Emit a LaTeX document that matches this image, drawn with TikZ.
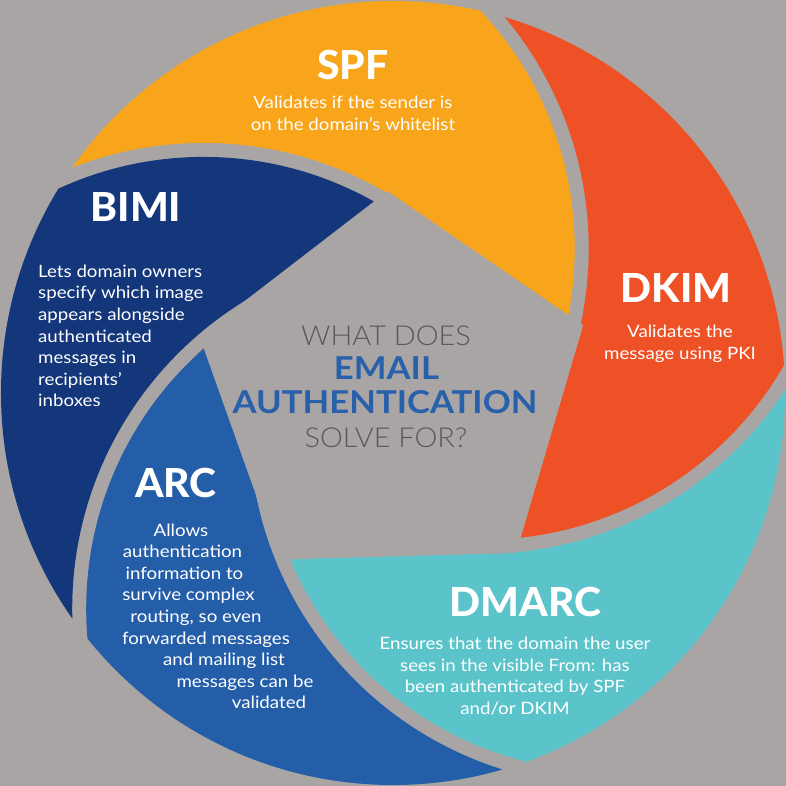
\documentclass[tikz,border=0pt]{standalone}
\usepackage{fontspec}
\setmainfont{Lato}[FakeStretch=1.1]
\newfontfamily\lightfont{Lato Light}[FakeStretch=1.05]
\newfontfamily\heavyfont{Lato Heavy}[FakeStretch=1.02]
\usetikzlibrary{positioning}
\definecolor{Stone}{HTML}{A8A5A4}
\definecolor{Amber}{HTML}{F8A51B}
\definecolor{Ember}{HTML}{EE5126}
\definecolor{Lagoon}{HTML}{5BC4CA}
\definecolor{Cobalt}{HTML}{255EA8}
\definecolor{Navy}{HTML}{14367A}
\definecolor{Slate}{HTML}{58595B}
\definecolor{Azure}{HTML}{2860AC}
\tikzset{
  title/.style={text=white,font=\fontsize{40}{40}\selectfont\heavyfont,inner sep=0pt,anchor=base},
  body/.style={text=white,font=\fontsize{17}{21.6}\selectfont,align=center,inner sep=0pt},
  hub/.style={text=Slate,font=\fontsize{27.5}{30}\selectfont\lightfont,inner sep=0pt,anchor=base},
  hubbold/.style={text=Azure,font=\fontsize{31.5}{34}\selectfont\bfseries,inner sep=0pt,anchor=base}
}

\begin{document}
\begin{tikzpicture}[x=1pt,y=1pt]
  \useasboundingbox (-393,-393) rectangle (393,393);
  \fill[Stone] (-393,-393) rectangle (393,393);

  % blades: own edge circle, next blade's edge circle
  \foreach \col/\ra/\rb in {Amber/0/71.5,Navy/71.5/141.7,Cobalt/141.7/212.8,Lagoon/212.8/287,Ember/287/360}{
    \begin{scope}[even odd rule]
      \clip (0,0) circle (392);
      \clip ({138.86+\ra}:219.5) circle (347);
      \clip (-400,-400) rectangle (400,400) ({138.86+\rb}:219.5) circle (361);
      \fill[\col] (-400,-400) rectangle (400,400);
    \end{scope}
  }
  \fill[Stone] (19.6:201.9) -- (91.6:201.9) -- (163.6:201.9) -- (235.6:201.9) -- (307.6:201.9) -- cycle;

  \node[hub] (what) at (-7,47) {WHAT DOES};
  \node[hubbold] (email) at (-6.5,13) {EMAIL};
  \node[hubbold] (auth) at (-8,-21) {AUTHENTICATION};
  \node[hub] (solve) at (-7,-55) {SOLVE FOR?};

  \node[title] (spf) at (-40,313) {SPF};
  \node[body,below=15.5pt of spf] (spftext) {Validates if the sender is\\on the domain’s whitelist};

  \node[title] (dkim) at (283,90) {DKIM};
  \node[body,below=21.5pt of dkim,xshift=4pt] (dkimtext) {Validates the\\message using PKI};

  \node[title] (dmarc) at (132.5,-223) {DMARC};
  \node[body,below=20.5pt of dmarc,xshift=-10.5pt] (dmarctext) {Ensures that the domain the user\\sees in the visible From: has\\been authenticated by SPF\\and/or DKIM};

  \node[title] (bimi) at (-257,171) {BIMI};
  \node[body,align=left,anchor=north west] (bimitext) at (-355,128.5) {Lets domain owners\\specify which image\\appears alongside\\authenticated\\messages in\\recipients’\\inboxes};

  \node[title] (arc) at (-217,-105) {ARC};
  \foreach \x/\t [count=\i] in {-212/Allows,-210.5/authentication,-208.5/information to,-204.5/survive complex,-197/{routing, so even},-187/forwarded messages,-169/and mailing list,-148/messages can be,-124/validated}
    \node[body,anchor=base] (arcline\i) at (\x,{-143-21.6*(\i-1)}) {\t};
\end{tikzpicture}
\end{document}
